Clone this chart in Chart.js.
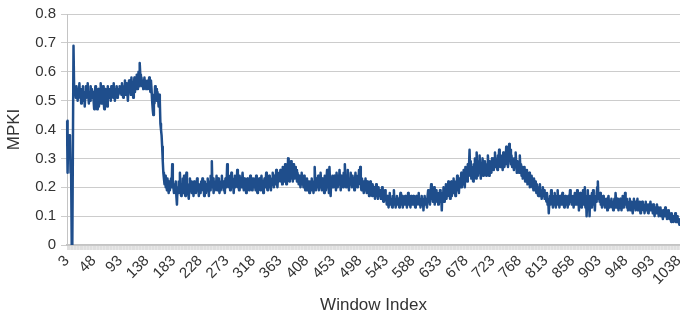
<!DOCTYPE html>
<html>
<head>
<meta charset="utf-8">
<title>MPKI by window</title>
<script src="https://cdn.jsdelivr.net/npm/chart.js@4/dist/chart.umd.min.js"></script>
<style>
  html, body { margin: 0; padding: 0; background: #fff; }
  #wrap { width: 680px; height: 320px; position: relative; }
</style>
</head>
<body>
<div id="wrap"><canvas id="mpkiChart"></canvas></div>
<script>
// MPKI per window (windows 3..1040)
const FIRST_WINDOW = 3;
const xTickLabels = [3, 48, 93, 138, 183, 228, 273, 318, 363, 408, 453, 498, 543, 588, 633, 678, 723, 768, 813, 858, 903, 948, 993, 1038];
const yTicks = [0, 0.1, 0.2, 0.3, 0.4, 0.5, 0.6, 0.7, 0.8];

const mpki = [
  // 3 - 47
  0.43,0.25,0.38,0.37,0.38,0.37,0.25,0.25,0,0,0,0.69,0.55,0.52,0.54,0.51,0.55,0.53,0.50,0.54,0.52,0.56,0.51,0.53,0.49,0.54,0.52,0.55,0.50,0.53,0.48,0.52,0.55,0.51,0.54,0.56,0.52,0.49,0.53,0.50,0.55,0.52,0.54,0.51,0.53,
  // 48 - 92
  0.50,0.47,0.52,0.55,0.49,0.53,0.47,0.51,0.54,0.48,0.52,0.50,0.56,0.49,0.53,0.51,0.55,0.50,0.47,0.52,0.54,0.50,0.53,0.48,0.55,0.52,0.54,0.51,0.53,0.50,0.55,0.52,0.54,0.51,0.56,0.53,0.50,0.54,0.52,0.55,0.51,0.54,0.52,0.53,0.55,
  // 93 - 137
  0.53,0.55,0.52,0.56,0.54,0.51,0.55,0.53,0.57,0.52,0.54,0.56,0.53,0.50,0.55,0.57,0.53,0.55,0.52,0.58,0.54,0.56,0.51,0.55,0.58,0.53,0.57,0.55,0.59,0.54,0.56,0.60,0.55,0.63,0.59,0.56,0.58,0.55,0.57,0.54,0.56,0.58,0.55,0.57,0.54,
  // 138 - 182
  0.56,0.54,0.57,0.55,0.58,0.56,0.53,0.57,0.54,0.50,0.47,0.45,0.52,0.49,0.55,0.52,0.54,0.50,0.53,0.51,0.48,0.52,0.50,0.42,0.40,0.38,0.34,0.29,0.25,0.23,0.21,0.24,0.20,0.22,0.19,0.23,0.20,0.18,0.22,0.19,0.21,0.23,0.20,0.28,0.22,
  // 183 - 227
  0.20,0.18,0.21,0.19,0.22,0.17,0.14,0.20,0.18,0.22,0.19,0.25,0.20,0.17,0.21,0.19,0.23,0.18,0.24,0.20,0.17,0.22,0.25,0.19,0.21,0.18,0.16,0.20,0.23,0.19,0.22,0.18,0.21,0.20,0.17,0.22,0.19,0.21,0.18,0.20,0.23,0.19,0.21,0.17,0.20,
  // 228 - 272
  0.21,0.18,0.22,0.20,0.23,0.19,0.21,0.17,0.22,0.20,0.18,0.21,0.19,0.23,0.20,0.17,0.22,0.19,0.24,0.21,0.29,0.20,0.23,0.18,0.21,0.19,0.22,0.20,0.24,0.19,0.21,0.23,0.20,0.18,0.22,0.19,0.21,0.24,0.20,0.22,0.19,0.21,0.18,0.23,0.20,
  // 273 - 317
  0.22,0.28,0.21,0.24,0.20,0.23,0.19,0.22,0.25,0.20,0.23,0.21,0.18,0.22,0.24,0.20,0.23,0.21,0.26,0.20,0.22,0.19,0.24,0.21,0.23,0.20,0.22,0.25,0.21,0.19,0.23,0.20,0.22,0.18,0.21,0.23,0.20,0.22,0.19,0.21,0.24,0.20,0.22,0.19,0.23,
  // 318 - 362
  0.21,0.23,0.20,0.22,0.19,0.24,0.21,0.18,0.22,0.20,0.23,0.21,0.19,0.22,0.24,0.20,0.22,0.18,0.21,0.23,0.20,0.22,0.25,0.21,0.19,0.23,0.21,0.24,0.20,0.22,0.19,0.23,0.21,0.25,0.22,0.20,0.24,0.21,0.23,0.26,0.22,0.20,0.24,0.22,0.25,
  // 363 - 407
  0.23,0.26,0.22,0.25,0.21,0.27,0.23,0.25,0.22,0.28,0.24,0.21,0.26,0.23,0.30,0.25,0.22,0.27,0.24,0.29,0.23,0.26,0.22,0.28,0.25,0.23,0.27,0.24,0.26,0.22,0.25,0.23,0.21,0.24,0.22,0.20,0.23,0.25,0.21,0.23,0.20,0.24,0.22,0.19,0.23,
  // 408 - 452
  0.21,0.23,0.19,0.22,0.20,0.18,0.22,0.21,0.19,0.23,0.20,0.22,0.18,0.21,0.27,0.22,0.19,0.23,0.20,0.21,0.24,0.19,0.22,0.20,0.25,0.21,0.19,0.23,0.20,0.22,0.18,0.24,0.21,0.19,0.23,0.26,0.20,0.22,0.18,0.27,0.22,0.17,0.23,0.20,0.24,
  // 453 - 497
  0.22,0.20,0.24,0.21,0.23,0.19,0.25,0.22,0.20,0.24,0.21,0.26,0.22,0.19,0.24,0.21,0.23,0.20,0.25,0.22,0.28,0.23,0.20,0.24,0.21,0.26,0.22,0.19,0.23,0.21,0.25,0.22,0.20,0.24,0.21,0.23,0.19,0.22,0.25,0.21,0.23,0.20,0.24,0.21,0.26,
  // 498 - 542
  0.22,0.27,0.21,0.19,0.23,0.20,0.22,0.18,0.21,0.19,0.23,0.20,0.18,0.22,0.19,0.21,0.17,0.20,0.22,0.18,0.20,0.17,0.21,0.19,0.18,0.20,0.16,0.19,0.21,0.17,0.19,0.16,0.20,0.18,0.17,0.19,0.16,0.18,0.20,0.17,0.15,0.18,0.16,0.19,0.17,
  // 543 - 587
  0.16,0.14,0.17,0.15,0.13,0.16,0.18,0.14,0.16,0.15,0.13,0.17,0.15,0.19,0.14,0.16,0.13,0.15,0.17,0.14,0.16,0.15,0.13,0.16,0.18,0.14,0.15,0.17,0.13,0.16,0.14,0.15,0.17,0.14,0.16,0.13,0.15,0.18,0.14,0.16,0.15,0.13,0.17,0.15,0.14,
  // 588 - 632
  0.15,0.17,0.14,0.16,0.13,0.15,0.17,0.14,0.16,0.15,0.18,0.14,0.16,0.13,0.15,0.17,0.14,0.16,0.12,0.15,0.17,0.14,0.16,0.15,0.13,0.17,0.19,0.15,0.16,0.14,0.18,0.21,0.16,0.19,0.15,0.17,0.20,0.14,0.18,0.16,0.19,0.15,0.17,0.14,0.18,
  // 633 - 677
  0.16,0.19,0.15,0.17,0.12,0.18,0.16,0.20,0.15,0.18,0.17,0.21,0.16,0.19,0.17,0.22,0.18,0.20,0.16,0.19,0.22,0.17,0.20,0.18,0.23,0.19,0.21,0.17,0.22,0.20,0.24,0.19,0.21,0.18,0.23,0.20,0.22,0.25,0.20,0.23,0.21,0.26,0.22,0.20,0.27,
  // 678 - 722
  0.23,0.26,0.22,0.28,0.24,0.27,0.33,0.25,0.29,0.23,0.27,0.25,0.22,0.28,0.24,0.30,0.26,0.23,0.32,0.27,0.24,0.29,0.25,0.31,0.26,0.23,0.28,0.25,0.30,0.24,0.27,0.25,0.29,0.26,0.24,0.28,0.25,0.31,0.27,0.24,0.29,0.26,0.28,0.25,0.30,
  // 723 - 767
  0.27,0.30,0.26,0.29,0.32,0.27,0.30,0.28,0.26,0.31,0.28,0.33,0.29,0.27,0.31,0.28,0.30,0.26,0.32,0.29,0.27,0.31,0.28,0.34,0.29,0.31,0.27,0.30,0.35,0.30,0.33,0.28,0.31,0.27,0.30,0.28,0.26,0.30,0.27,0.32,0.28,0.25,0.29,0.26,0.28,
  // 768 - 812
  0.25,0.31,0.26,0.28,0.24,0.27,0.23,0.26,0.24,0.27,0.22,0.25,0.23,0.26,0.21,0.24,0.22,0.25,0.20,0.23,0.21,0.24,0.20,0.22,0.19,0.23,0.21,0.19,0.22,0.18,0.21,0.19,0.17,0.20,0.18,0.21,0.17,0.19,0.16,0.18,0.20,0.17,0.19,0.16,0.18,
  // 813 - 857
  0.17,0.15,0.18,0.14,0.16,0.11,0.15,0.17,0.14,0.19,0.15,0.17,0.13,0.16,0.14,0.18,0.15,0.13,0.17,0.15,0.19,0.14,0.16,0.13,0.17,0.15,0.14,0.16,0.18,0.14,0.16,0.13,0.15,0.17,0.14,0.16,0.15,0.13,0.17,0.14,0.16,0.19,0.15,0.17,0.14,
  // 858 - 902
  0.15,0.17,0.13,0.16,0.18,0.14,0.16,0.15,0.19,0.14,0.17,0.12,0.16,0.18,0.15,0.13,0.17,0.15,0.19,0.14,0.16,0.20,0.13,0.17,0.10,0.15,0.19,0.14,0.16,0.10,0.17,0.15,0.13,0.18,0.15,0.19,0.14,0.16,0.12,0.17,0.15,0.18,0.20,0.22,0.16,
  // 903 - 947
  0.17,0.15,0.18,0.14,0.16,0.13,0.15,0.17,0.14,0.16,0.13,0.15,0.14,0.16,0.12,0.15,0.17,0.14,0.13,0.15,0.14,0.16,0.13,0.15,0.12,0.14,0.16,0.13,0.18,0.15,0.13,0.16,0.14,0.12,0.15,0.13,0.16,0.14,0.12,0.15,0.17,0.13,0.15,0.14,0.18,
  // 948 - 992
  0.14,0.16,0.13,0.15,0.12,0.14,0.13,0.16,0.12,0.14,0.15,0.13,0.11,0.14,0.16,0.13,0.15,0.12,0.14,0.13,0.16,0.12,0.14,0.13,0.15,0.11,0.14,0.12,0.15,0.13,0.12,0.14,0.11,0.13,0.15,0.12,0.14,0.13,0.11,0.14,0.12,0.13,0.15,0.12,0.14,
  // 993 - 1040
  0.13,0.11,0.14,0.12,0.10,0.13,0.11,0.12,0.14,0.11,0.13,0.10,0.12,0.11,0.13,0.10,0.12,0.11,0.09,0.12,0.10,0.11,0.13,0.10,0.12,0.09,0.11,0.10,0.12,0.09,0.11,0.10,0.08,0.11,0.09,0.10,0.08,0.10,0.09,0.11,0.08,0.09,0.10,0.08,0.09,0.08,0.07,0.08
];

const windowIndex = mpki.map((_, i) => String(FIRST_WINDOW + i));

Chart.defaults.font.family = "'Liberation Sans', Arial, sans-serif";
Chart.defaults.color = '#333333';

new Chart(document.getElementById('mpkiChart'), {
  type: 'line',
  data: {
    labels: windowIndex,
    datasets: [{
      label: 'MPKI',
      data: mpki,
      borderColor: '#1f4e8c',
      borderWidth: 2.5,
      borderJoinStyle: 'round',
      pointRadius: 0,
      tension: 0,
      fill: false
    }]
  },
  options: {
    responsive: true,
    maintainAspectRatio: false,
    animation: false,
    layout: { padding: { top: 12, right: 0, bottom: 0, left: 0 } },
    plugins: { legend: { display: false }, tooltip: { enabled: false } },
    scales: {
      x: {
        type: 'category',
        // one small tick per window, as in the original (forms a light striped band)
        grid: { drawOnChartArea: false, drawTicks: true, tickLength: 5, color: '#dcdcdc', lineWidth: 0.7 },
        border: { display: true, color: '#c4c4c4', width: 1.5 },
        ticks: {
          autoSkip: false,
          minRotation: 45,
          maxRotation: 45,
          padding: 2,
          font: { size: 15 },
          callback: function (value) {
            const lbl = Number(this.getLabelForValue(value));
            return xTickLabels.includes(lbl) ? String(lbl) : '';
          }
        },
        title: { display: true, text: 'Window Index', font: { size: 17 }, padding: { top: 0, bottom: 4 } },
        afterFit: s => { s.height = 75; s.paddingLeft = 0; s.paddingRight = 0; }
      },
      y: {
        min: 0,
        max: 0.8,
        afterBuildTicks: s => { s.ticks = yTicks.map(v => ({ value: v })); },
        grid: { color: '#cccccc', lineWidth: 1, tickLength: 6 },
        border: { display: true, color: '#c4c4c4', width: 1 },
        ticks: {
          padding: 5,
          font: { size: 15 },
          callback: v => String(+v.toFixed(1))
        },
        title: { display: true, text: 'MPKI', font: { size: 17 }, padding: { top: 4, bottom: 0 } },
        afterFit: s => { s.width = 67; }
      }
    }
  }
});
</script>
</body>
</html>
